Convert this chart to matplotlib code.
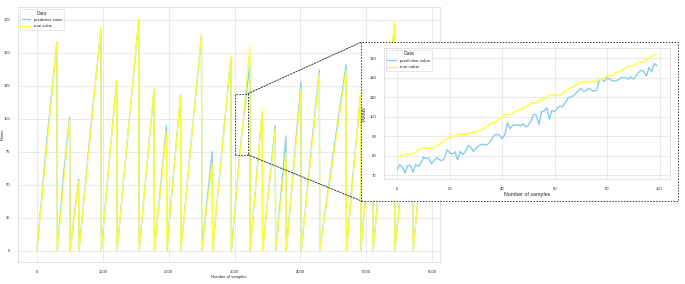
import matplotlib
matplotlib.use("Agg")
import matplotlib.pyplot as plt
import seaborn as sns
from matplotlib.patches import Rectangle, ConnectionPatch

# sawtooth ramps of the full run: sample where a ramp starts, where it peaks, peak value
ramp_start = [0, 310, 505, 640, 978, 1217, 1552, 1784, 1972, 2186, 2503, 2666,
              2950, 3237, 3425, 3623, 3784, 4012, 4292, 4697, 4917, 5102, 5432, 5710]
ramp_end = [304, 497, 634, 973, 1211, 1546, 1778, 1967, 2180, 2498, 2660, 2944,
            3232, 3420, 3617, 3780, 4008, 4286, 4692, 4912, 5097, 5427, 5705, 5820]
true_peak = [158, 99, 52, 169, 129, 176, 123, 90, 117, 164, 66, 147,
             155, 107, 92, 74, 122, 134, 137, 119, 105, 173, 140, 60]
pred_mid = [84, 57, 28, 88, 66, 88, 62, 48, 60, 83, 38, 75,
            80, 54, 48, 42, 64, 70, 72, 62, 53, 88, 72, 30]
pred_peak = [158, 101, 54, 168, 129, 175, 122, 95, 118, 163, 75, 146,
             142, 105, 95, 87, 128, 137, 141, 118, 105, 172, 140, 60]

# zoomed window (first 100 samples shown in the inset)
zoom_true = [79, 80, 80, 81, 81, 81, 81, 82, 83, 84, 84, 84, 84, 84, 84, 85, 86, 87, 88, 89,
             89, 90, 90, 91, 91, 91, 91, 91, 92, 92, 92, 93, 93, 94, 95, 96, 97, 97, 98, 99,
             100, 101, 101, 101, 102, 103, 103, 104, 104, 105, 106, 107, 107, 107, 108, 109, 109, 110, 111, 111,
             111, 111, 111, 112, 113, 114, 115, 115, 116, 117, 118, 118, 118, 118, 118, 118, 118, 119, 119, 120,
             121, 121, 121, 122, 123, 123, 124, 125, 126, 126, 126, 127, 128, 128, 128, 129, 130, 131, 132, 132]
zoom_pred = [73, 75.5, 74, 71.2, 75, 75, 71.7, 75.5, 74.6, 76.3, 79.3, 78.6, 79, 75.8, 77.5, 79, 78, 77.5, 78.6, 83.2,
             81.5, 81, 82, 78, 82.3, 80.6, 82.3, 85.3, 84.4, 82.3, 84, 84.9, 85.8, 85.8, 85.4, 86.6, 88.3, 90.6, 90.9, 90.6,
             88.7, 90.9, 96.9, 93.8, 95.7, 95.7, 96, 95.2, 96.4, 94.7, 95.7, 97.8, 101.2, 100.9, 96, 102.6, 102.9, 104.6, 98.6, 103.3,
             102.6, 104.3, 105.5, 105, 107.2, 109.4, 110.1, 110.6, 111.8, 113.2, 114.6, 112.9, 113.5, 114.6, 113.5, 113.2, 113.5, 118.7, 119.2, 118,
             120, 119.2, 118.3, 118.3, 118.7, 119.7, 120, 120, 119.2, 120.4, 119.2, 120.9, 122.6, 123.8, 123.1, 120.9, 125.2, 123.1, 127.3, 126]
zoom_x = list(range(len(zoom_true)))

zoom_box_x = (3005, 3202)
zoom_box_y = (72.7, 119)

BLUE = "#87ceeb"
YELLOW = "#ffff33"


def main() -> None:
    sns.set_style("whitegrid")
    plt.rcParams["font.family"] = ["Liberation Sans", "DejaVu Sans"]

    true_x, true_y, pred_x, pred_y = [], [], [], []
    for s, e, p, m, pp in zip(ramp_start, ramp_end, true_peak, pred_mid, pred_peak):
        true_x += [s, e]
        true_y += [0, p]
        pred_x += [s, (s + e) / 2, e]
        pred_y += [0, m, pp]

    fig = plt.figure(figsize=(6.85, 2.84), dpi=100)
    ax = fig.add_axes([0.0258, 0.0764, 0.616, 0.900])
    ax.set_zorder(0)
    ax.plot(pred_x, pred_y, color=BLUE, lw=0.9, label="predictive value")
    ax.plot(true_x, true_y, color=YELLOW, lw=0.9, label="true value")
    ax.set_xticks(range(0, 6001, 1000))
    ax.set_yticks(range(0, 176, 25))
    ax.tick_params(labelsize=3, pad=2)
    ax.set_xlabel("Number of samples", fontsize=3, labelpad=1)
    ax.set_ylabel("Points", fontsize=3)
    ax.yaxis.set_label_coords(-0.03, 0.5)
    for sp in ax.spines.values():
        sp.set_color("#dddddd")
        sp.set_linewidth(0.6)
    ax.grid(color="#e6e6e6", lw=0.6)
    leg = ax.legend(title="Data", loc="upper left", fontsize=3, title_fontsize=3.4,
                    frameon=True, borderaxespad=0.6)
    leg.get_frame().set_linewidth(0.4)

    ax.add_patch(Rectangle((zoom_box_x[0], zoom_box_y[0]),
                           zoom_box_x[1] - zoom_box_x[0], zoom_box_y[1] - zoom_box_y[0],
                           fill=False, ls=(0, (1.5, 1.5)), lw=0.7, ec="#333333", zorder=5))

    # dotted frame around the inset
    frame = Rectangle((0.527, 0.293), 0.463, 0.558, transform=fig.transFigure,
                      fc="white", ec="#333333", ls=(0, (1.5, 1.5)), lw=0.7, zorder=1)
    fig.add_artist(frame)
    for yb, yf in [(zoom_box_y[1], 0.851), (zoom_box_y[0], 0.293)]:
        con = ConnectionPatch(xyA=(zoom_box_x[1], yb), coordsA=ax.transData,
                              xyB=(0.527, yf), coordsB=fig.transFigure,
                              color="#333333", ls=(0, (1.5, 1.5)), lw=0.7, zorder=1)
        fig.add_artist(con)

    ins = fig.add_axes([0.561, 0.370, 0.417, 0.460])
    ins.set_zorder(2)
    ins.plot(zoom_x, zoom_pred, color=BLUE, lw=1.0, label="predictive value")
    ins.plot(zoom_x, zoom_true, color=YELLOW, lw=1.0, label="true value")
    ins.set_xticks(range(0, 101, 20))
    ins.set_yticks(range(70, 131, 10))
    ins.tick_params(labelsize=3, pad=2)
    ins.set_xlabel("Number of samples", fontsize=3.8, labelpad=1)
    ins.set_ylabel("Points", fontsize=3.8, labelpad=2)
    for sp in ins.spines.values():
        sp.set_color("#dddddd")
        sp.set_linewidth(0.6)
    ins.grid(color="#e6e6e6", lw=0.6)
    leg2 = ins.legend(title="Data", loc="upper left", fontsize=3.2, title_fontsize=3.6,
                      frameon=True, borderaxespad=0.3)
    leg2.get_frame().set_linewidth(0.4)

    fig.savefig("out.png", dpi=100)
    print("OK: out.png")


if __name__ == "__main__":
    main()
